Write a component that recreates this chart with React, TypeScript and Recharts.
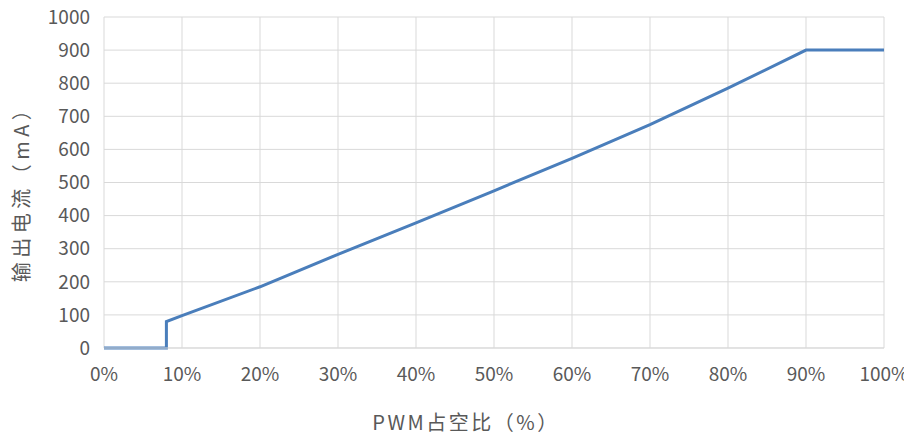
import { LineChart, Line, XAxis, YAxis, CartesianGrid } from "recharts";

const DUTY = [0, 8, 8, 10, 20, 30, 40, 50, 60, 70, 80, 90, 100];
const CURRENT = [0, 0, 80, 98, 185, 283, 378, 475, 573, 675, 785, 900, 900];
const X_TICKS = [0, 10, 20, 30, 40, 50, 60, 70, 80, 90, 100];
const Y_TICKS = [0, 100, 200, 300, 400, 500, 600, 700, 800, 900, 1000];

const DATA = DUTY.map((d, i) => ({ duty: d, current: CURRENT[i] }));

const FONT = "'Noto Sans CJK SC', 'Noto Sans', sans-serif";
const tick = { fill: "#595959", fontSize: 19, fontFamily: FONT };

export default function App() {
  return (
    <div style={{ position: "relative", width: 912, height: 439, margin: "-8px 0 0 -8px", fontFamily: FONT }}>
      <LineChart width={912} height={439} data={DATA} margin={{ top: 17, right: 28, bottom: 61, left: 8 }}>
        <CartesianGrid stroke="#d9d9d9" strokeWidth={1} />
        <XAxis
          dataKey="duty" type="number" domain={[0, 100]} ticks={X_TICKS} height={30}
          tickFormatter={(v) => `${v}%`} axisLine={{ stroke: "#d9d9d9" }} tickLine={false}
          tick={tick} tickMargin={14} interval={0}
        />
        <YAxis
          type="number" domain={[0, 1000]} ticks={Y_TICKS} width={96}
          axisLine={false} tickLine={false} tick={tick} tickMargin={8} interval={0}
        />
        <Line
          type="linear" dataKey="current" stroke="#4a7ebb" strokeWidth={3}
          dot={false} isAnimationActive={false}
        />
      </LineChart>
      <div style={{
        position: "absolute", left: 20, top: 189, transform: "translate(-50%, -50%) rotate(-90deg)",
        whiteSpace: "nowrap", fontSize: 20, letterSpacing: 4.5, color: "#595959",
      }}>
        输出电流（mA）
      </div>
      <div style={{
        position: "absolute", left: 466, top: 421, transform: "translate(-50%, -50%)",
        whiteSpace: "nowrap", fontSize: 20, letterSpacing: 2.5, color: "#595959",
      }}>
        PWM占空比（%）
      </div>
    </div>
  );
}
